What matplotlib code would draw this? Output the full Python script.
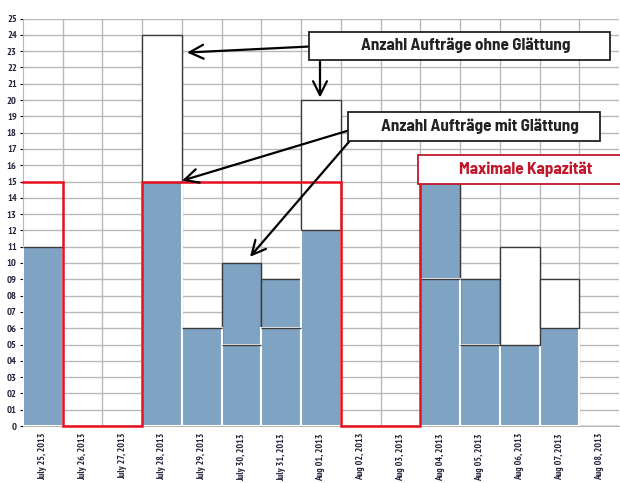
import matplotlib
matplotlib.use("Agg")
import matplotlib.pyplot as plt
from matplotlib.patches import Rectangle
import numpy as np

# ---- data ----
dates = ["July 25, 2013", "July 26, 2013", "July 27, 2013", "July 28, 2013",
         "July 29, 2013", "July 30, 2013", "July 31, 2013", "Aug 01, 2013",
         "Aug 02, 2013", "Aug 03, 2013", "Aug 04, 2013", "Aug 05, 2013",
         "Aug 06, 2013", "Aug 07, 2013", "Aug 08, 2013"]
orders_raw = [11, 0, 0, 24, 6, 5, 6, 20, 0, 0, 9, 5, 11, 9, 0]       # ohne Glättung
orders_smooth = [11, 0, 0, 15, 6, 10, 9, 12, 0, 0, 15, 9, 5, 6, 0]  # mit Glättung
capacity = [15, 0, 0, 15, 15, 15, 15, 15, 0, 0, 15, 15, 15, 15, 15]
y_ticks = list(range(0, 26))
y_labels = ["0"] + ["%02d" % v for v in range(1, 26)]

label_raw = "Anzahl Aufträge ohne Glättung"
label_smooth = "Anzahl Aufträge mit Glättung"
label_cap = "Maximale Kapazität"

BOX_FONT = ["Barlow Semi Condensed", "DejaVu Sans"]
TICK_FONT = ["PT Sans Narrow", "DejaVu Sans"]
plt.rcParams["font.family"] = TICK_FONT

BLUE = "#7FA3C2"
RED = "#E8101E"
DARKRED = "#C0172B"
EDGE = "#3A3A3A"
GRID = "#B8B8B8"

fig = plt.figure(figsize=(6.2, 4.83), dpi=100)
ax = fig.add_axes([23 / 620, 1 - 426 / 483, 596 / 620, (426 - 18.5) / 483])

x = np.arange(len(dates))
raw = np.array(orders_raw)
sm = np.array(orders_smooth)
base = np.minimum(raw, sm)

# extension where smoothing adds orders (blue, dark edge)
up = np.where(sm > raw, sm - raw, 0)
ax.bar(x, up, bottom=base, width=1.0, color=BLUE, edgecolor=EDGE, linewidth=1.0, zorder=2)
# base part (blue, white edge)
ax.bar(x, base, width=1.0, color=BLUE, edgecolor="white", linewidth=1.5, zorder=3)
# part removed by smoothing (white, dark edge)
down = np.where(raw > sm, raw - sm, 0)
ax.bar(x, down, bottom=base, width=1.0, color="white", edgecolor=EDGE, linewidth=1.0, zorder=4)

# capacity step line
cx = np.concatenate([[x[0] - 0.5], np.repeat(x[1:] - 0.5, 2), [x[-1] + 0.5]])
cy = np.repeat(capacity, 2)
ax.plot(cx, cy, color=RED, lw=1.8, zorder=5, solid_joinstyle="miter", clip_on=False)

ax.set_xlim(-0.5, len(dates) - 0.5)
ax.set_ylim(0, 25)
ax.set_yticks(y_ticks)
ax.set_yticklabels(y_labels, fontsize=7.5, fontweight="bold", color="#22223A")
ax.set_xticks(x)
ax.set_xticklabels(dates, rotation=90, fontsize=7, fontweight="bold", color="#22223A", va="top")
ax.tick_params(axis="x", length=0, pad=5)
ax.tick_params(axis="y", length=2.5, pad=2, width=0.8)
ax.set_xticks(x[:-1] + 0.5, minor=True)
ax.grid(axis="y", which="major", color=GRID, lw=1.0, zorder=0)
ax.grid(axis="x", which="minor", color=GRID, lw=1.0, zorder=0)
ax.tick_params(axis="x", which="minor", length=0)
ax.set_axisbelow(True)
for s in ["top", "right"]:
    ax.spines[s].set_visible(False)
ax.spines["left"].set_color(GRID)
ax.spines["bottom"].set_color(GRID)

def px_to_data(px, py):
    return ((px - 23) / (596 / 15) - 0.5, (426 - py) / (407 / 25))

def box(x0, y0, x1, y1, text, ec, tc):
    (dx0, dy0), (dx1, dy1) = px_to_data(x0, y1), px_to_data(x1, y0)
    ax.add_patch(Rectangle((dx0, dy0), dx1 - dx0, dy1 - dy0, facecolor="white",
                           edgecolor=ec, lw=1.3, zorder=8, clip_on=False))
    ax.text((dx0 + dx1) / 2 + 0.15, (dy0 + dy1) / 2, text, ha="center", va="center",
            fontsize=12.3, fontweight="bold", color=tc, zorder=9, clip_on=False,
            family=BOX_FONT)

arrow_kw = dict(arrowstyle="->,head_length=1.0,head_width=0.5", color="black", lw=1.6,
                shrinkA=0, shrinkB=0)

def arrow(p_from, p_to):
    ax.annotate("", xy=px_to_data(*p_to), xytext=px_to_data(*p_from),
                arrowprops=arrow_kw, zorder=7, annotation_clip=False)

arrow((309, 47), (187, 53))
arrow((320, 60), (320, 98))
arrow((348, 131), (182, 181))
arrow((350, 141), (250, 257))

box(309, 32, 610, 60, label_raw, "#222222", "#222222")
box(348, 112, 600, 141, label_smooth, "#222222", "#222222")
box(418, 155, 622, 184, label_cap, DARKRED, DARKRED)

fig.savefig("out.png", dpi=100)
